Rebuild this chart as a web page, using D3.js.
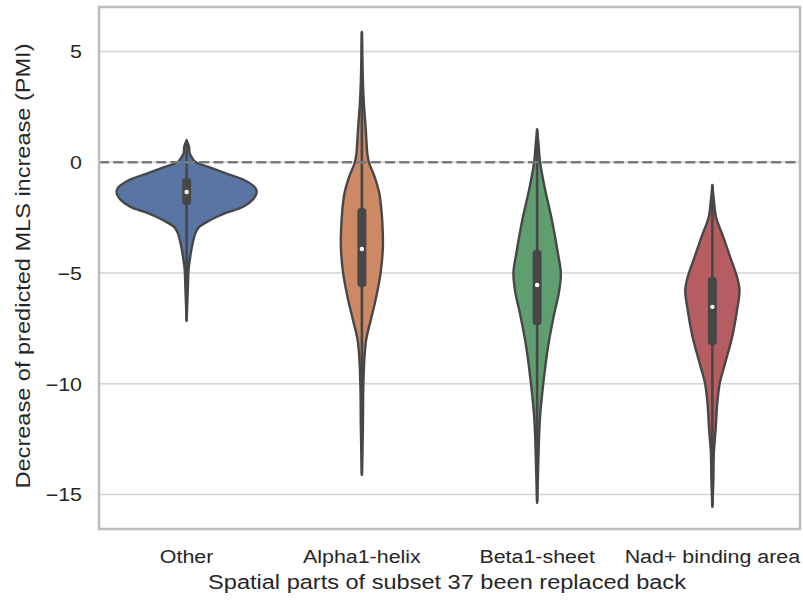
<!DOCTYPE html>
<html>
<head>
<meta charset="utf-8">
<script src="https://cdn.jsdelivr.net/npm/d3@7"></script>
<style>
  body { margin: 0; background: #ffffff; }
  svg { display: block; }
  text { font-family: "Liberation Sans", Arial, Helvetica, sans-serif; fill: #262626; }
</style>
</head>
<body>
<svg id="chart" width="803" height="601"></svg>
<script>
// Categories along the x axis
const categories = ["Other", "Alpha1-helix", "Beta1-sheet", "Nad+ binding area"];
const fillColors = ["#5875A3", "#CC8963", "#5F9E6E", "#B55D60"];
const yTicks = [5, 0, -5, -10, -15];

// Kernel density profiles: [PMI value, density relative to the widest violin]
const otherDensity = [
  [1.00, 0], [0.69, 0.035], [0.42, 0.042], [0.24, 0.07], [0.01, 0.127],
  [-0.21, 0.31], [-0.49, 0.55], [-0.80, 0.82], [-1.12, 0.97], [-1.34, 1.0],
  [-1.70, 0.94], [-2.02, 0.80], [-2.29, 0.56], [-2.61, 0.34], [-2.92, 0.18],
  [-3.19, 0.127], [-3.80, 0.077], [-4.39, 0.046], [-4.84, 0.028], [-5.74, 0.017],
  [-7.17, 0]
];
const alphaDensity = [
  [5.88, 0], [3.71, 0.014], [2.67, 0.028], [1.46, 0.056], [0.42, 0.077],
  [0.01, 0.099], [-0.67, 0.183], [-1.37, 0.246], [-2.27, 0.282], [-3.04, 0.296],
  [-3.80, 0.30], [-4.98, 0.268], [-6.20, 0.197], [-7.12, 0.127], [-8.02, 0.061],
  [-8.93, 0.035], [-10.1, 0.021], [-12.1, 0.014], [-14.12, 0]
];
const betaDensity = [
  [1.49, 0], [0.78, 0.021], [0.01, 0.042], [-1.12, 0.106], [-2.61, 0.211],
  [-4.10, 0.296], [-5.00, 0.338], [-5.90, 0.31], [-6.81, 0.246], [-8.34, 0.155],
  [-9.83, 0.094], [-11.32, 0.046], [-12.4, 0.028], [-13.9, 0.014], [-15.38, 0]
];
const nadDensity = [
  [-1.03, 0], [-1.70, 0.021], [-2.47, 0.052], [-3.37, 0.155], [-4.28, 0.254],
  [-5.18, 0.352], [-5.77, 0.387], [-6.67, 0.352], [-7.89, 0.282], [-9.06, 0.183],
  [-9.97, 0.106], [-10.87, 0.070], [-12.09, 0.046], [-13.13, 0.021], [-14.35, 0.014],
  [-15.56, 0]
];
const densities = [otherDensity, alphaDensity, betaDensity, nadDensity];

// Inner box statistics per category
const quartile1 = [-1.93, -5.63, -7.35, -8.25];
const medians = [-1.34, -3.92, -5.54, -6.53];
const quartile3 = [-0.71, -2.07, -3.96, -5.18];
const whiskerLow = [-7.1, -14.05, -15.3, -15.5];
const whiskerHigh = [0.95, 5.82, 1.43, -1.08];

const svg = d3.select("#chart");
const plotLeft = 99, plotRight = 800, plotTop = 7, plotBottom = 529;
const stretch = 1.19;

const x = d3.scaleBand().domain(categories).range([plotLeft, plotRight]).padding(0);
const y = d3.scaleLinear().domain([-16.56, 7.01]).range([plotBottom, plotTop]);
const w = d3.scaleLinear().domain([0, 1]).range([0, x.bandwidth() * 0.4]);

// Horizontal grid lines
svg.append("g").selectAll("line").data(yTicks).join("line")
  .attr("x1", plotLeft).attr("x2", plotRight)
  .attr("y1", d => y(d)).attr("y2", d => y(d))
  .attr("stroke", "#d4d4d4").attr("stroke-width", 1.5);

// Violins
const outline = "#474747";
const g = svg.append("g");
categories.forEach((c, i) => {
  const cx = x(c) + x.bandwidth() / 2;
  const area = d3.area()
    .curve(d3.curveCatmullRom.alpha(0.5))
    .y(d => y(d[0]))
    .x0(d => cx - w(d[1]))
    .x1(d => cx + w(d[1]));
  g.append("path").datum(densities[i])
    .attr("d", area)
    .attr("fill", fillColors[i])
    .attr("stroke", outline).attr("stroke-width", 2.4)
    .attr("stroke-linejoin", "round");
  // whisker
  g.append("line")
    .attr("x1", cx).attr("x2", cx)
    .attr("y1", y(whiskerHigh[i])).attr("y2", y(whiskerLow[i]))
    .attr("stroke", outline).attr("stroke-width", 2.6)
    .attr("stroke-linecap", "round");
  // interquartile box
  g.append("rect")
    .attr("x", cx - 4.5).attr("width", 9)
    .attr("y", y(quartile3[i])).attr("height", y(quartile1[i]) - y(quartile3[i]))
    .attr("rx", 3.5)
    .attr("fill", outline);
  // median
  g.append("circle")
    .attr("cx", cx).attr("cy", y(medians[i])).attr("r", 2.2)
    .attr("fill", "#ffffff");
});

// Reference line at zero
svg.append("line")
  .attr("x1", plotLeft).attr("x2", plotRight)
  .attr("y1", y(0)).attr("y2", y(0))
  .attr("stroke", "#7a7a7a").attr("stroke-width", 2.3)
  .attr("stroke-dasharray", "10,4.3");

// Frame
svg.append("rect")
  .attr("x", plotLeft).attr("y", plotTop)
  .attr("width", plotRight - plotLeft).attr("height", plotBottom - plotTop)
  .attr("fill", "none").attr("stroke", "#bdbdbd").attr("stroke-width", 2.5);

// Y axis tick labels
const yAxis = svg.append("g")
  .attr("transform", `translate(${plotLeft},0)`)
  .call(d3.axisLeft(y).tickValues(yTicks).tickSize(0).tickFormat(d3.format("d")));
yAxis.select(".domain").remove();
yAxis.selectAll("text")
  .attr("font-size", 18).attr("x", -17 / stretch).attr("dy", "0.36em")
  .attr("transform", `scale(${stretch},1)`)
  .style("font-family", "'Liberation Sans', Arial, sans-serif").style("fill", "#262626");

// X axis tick labels
const xAxis = svg.append("g")
  .attr("transform", `translate(0,${plotBottom})`)
  .call(d3.axisBottom(x).tickSize(0));
xAxis.select(".domain").remove();
xAxis.selectAll("text")
  .attr("font-size", 18).attr("y", 34).attr("dy", 0)
  .attr("transform", `scale(${stretch},1)`)
  .style("font-family", "'Liberation Sans', Arial, sans-serif").style("fill", "#262626");

// Axis titles
svg.append("g").attr("transform", `translate(447,589) scale(${stretch},1)`)
  .append("text").attr("text-anchor", "middle").attr("font-size", 19.8)
  .text("Spatial parts of subset 37 been replaced back");

svg.append("g").attr("transform", `translate(29.5,266) rotate(-90) scale(${stretch},1)`)
  .append("text").attr("text-anchor", "middle").attr("font-size", 19.8)
  .text("Decrease of predicted MLS increase (PMI)");
</script>
</body>
</html>
